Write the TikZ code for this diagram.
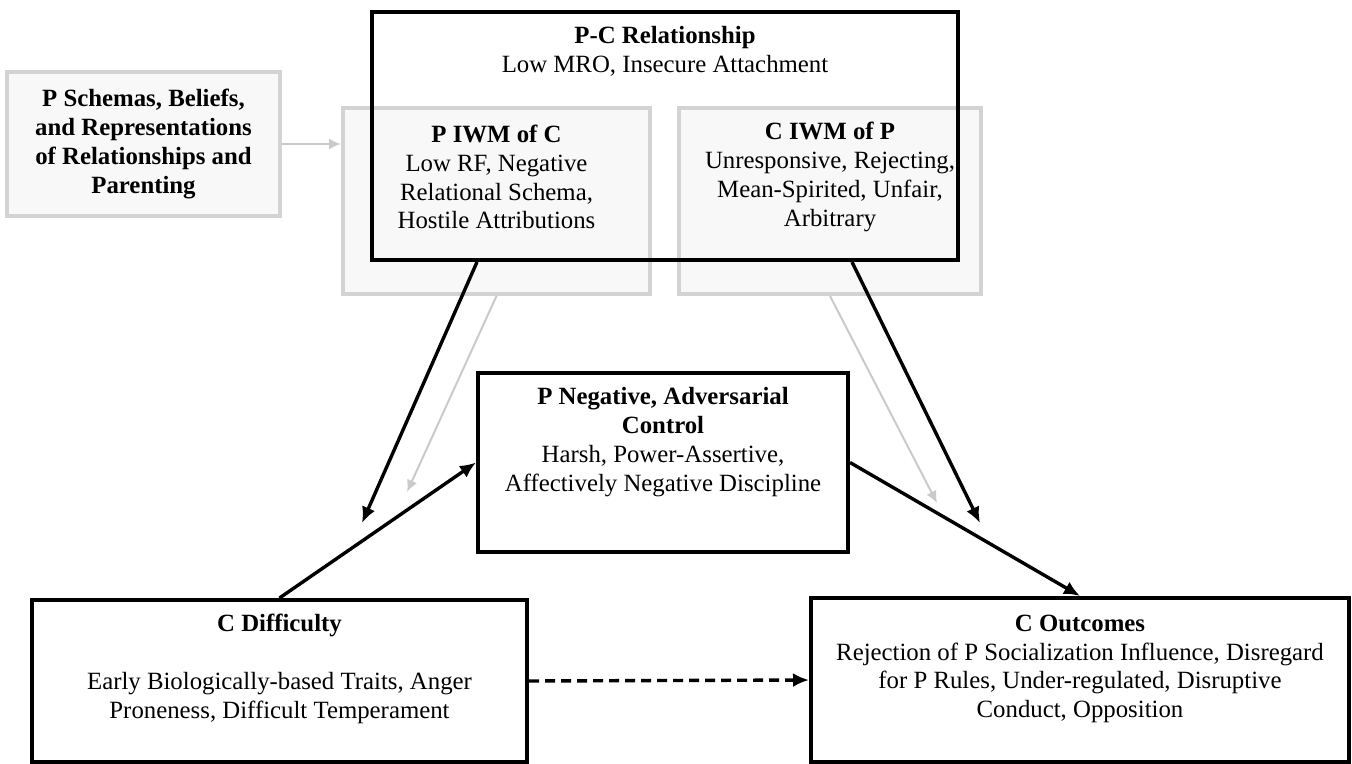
\documentclass[tikz,border=0pt]{standalone}
\usepackage{fontspec}
\setmainfont{Liberation Serif}
\usetikzlibrary{arrows.meta}
\definecolor{boxgrey}{HTML}{D3D3D3}
\definecolor{boxfill}{HTML}{F8F8F8}
\definecolor{arrowgrey}{HTML}{CACACA}
\tikzset{
  box/.style      = {shape=rectangle, draw, line width=2pt, inner sep=0pt},
  greybox/.style  = {box, draw=boxgrey, fill=boxfill, %rounded corners,
                     align=center},
  txt/.style      = {align=center, inner sep=0pt,
                     font=\fontsize{12.4}{14.4}\selectfont},
  link/.style     = {draw, line width=1.7pt, -{Latex[length=8pt,width=7pt]}},
  greylink/.style = {draw=arrowgrey, line width=1pt, -{Latex[length=6pt,width=5.5pt]}},
  dashlink/.style = {link, dash pattern=on 5pt off 3pt}
}
\begin{document}
\begin{tikzpicture}[x=0.5pt, y=-0.5pt]
  \useasboundingbox (0,0) rectangle (1352,764);

  % grey boxes first, black box goes over them
  \node[greybox, minimum width=136.5pt, minimum height=72pt, txt] (schemas) at (143.5,144)
    {\bfseries P Schemas, Beliefs,\\\bfseries and Representations\\\bfseries of Relationships and\\\bfseries Parenting};
  \node[greybox, minimum width=153.5pt, minimum height=93pt] (piwm) at (496.5,201) {};
  \node[greybox, minimum width=151pt, minimum height=93pt] (ciwm) at (830,201) {};

  \node[box, minimum width=293pt, minimum height=124pt] (pc) at (665,136) {};
  \node[box, minimum width=185pt, minimum height=89.5pt] (neg) at (663,462.5) {};
  \node[box, minimum width=247.5pt, minimum height=81pt] (diff) at (279.5,681) {};
  \node[box, minimum width=269pt, minimum height=82pt] (outc) at (1080,680) {};

  % texts
  \node[txt] (pctext) at (665,51) {\textbf{P-C Relationship}\\Low MRO, Insecure Attachment};
  \node[txt] (piwmtext) at (496.5,177) {\textbf{P IWM of C}\\Low RF, Negative\\Relational Schema,\\Hostile Attributions};
  \node[txt] (ciwmtext) at (830,177) {\textbf{C IWM of P}\\Unresponsive, Rejecting,\\Mean-Spirited, Unfair,\\Arbitrary};
  \node[txt] (negtext) at (663,442) {\textbf{P Negative, Adversarial}\\\textbf{Control}\\Harsh, Power-Assertive,\\Affectively Negative Discipline};
  \node[txt] (difftext) at (279.5,669) {\textbf{C Difficulty}\\[14.4pt]Early Biologically-based Traits, Anger\\Proneness, Difficult Temperament};
  \node[txt] (outctext) at (1080,669) {\textbf{C Outcomes}\\Rejection of P Socialization Influence, Disregard\\for P Rules, Under-regulated, Disruptive\\Conduct, Opposition};

  % free arrow ends
  \coordinate (tipA) at (362,523);
  \coordinate (tipB) at (407,492);
  \coordinate (tipC) at (980,523);
  \coordinate (tipD) at (937,503);

  \draw[greylink] (schemas.east) -- (schemas.east -| piwm.west);
  \draw[greylink] (piwm.south) -- (tipB);
  \draw[greylink] (ciwm.south) -- (tipD);
  \draw[link] ([xshift=53.5pt]pc.south west) -- (tipA);
  \draw[link] ([xshift=-54pt]pc.south east) -- (tipC);
  \draw[link] (diff.north) -- (neg.west);
  \draw[link] (neg.east) -- (outc.north);
  \draw[dashlink] (diff.east) -- (outc.west);
\end{tikzpicture}
\end{document}
